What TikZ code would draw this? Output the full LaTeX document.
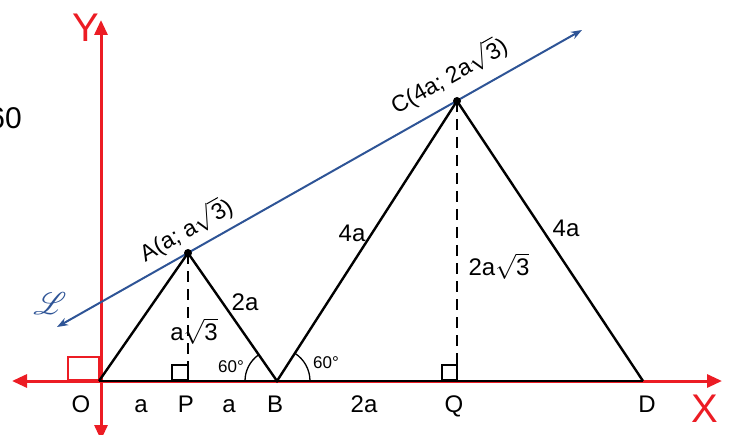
\documentclass[tikz,border=0pt]{standalone}
\usepackage{fontspec}
\setmainfont{Liberation Sans}
\usepackage{mathrsfs}
\usetikzlibrary{arrows.meta}
\definecolor{axred}{RGB}{236,28,36}
\definecolor{lblue}{RGB}{46,84,150}
\newcommand\rtthree{$\sqrt{\mbox{3}}$}
\tikzset{
  axis/.style={axred, line width=3pt, -{Triangle[length=15pt,width=13pt]}},
  side/.style={black, line width=2.4pt},
  hgt/.style={black, line width=2.2pt, dash pattern=on 11pt off 7pt},
  lbl/.style={font=\fontsize{24}{28}\selectfont, inner sep=0pt},
  sml/.style={font=\fontsize{17}{20}\selectfont, inner sep=0pt},
  coord/.style={font=\fontsize{23}{27}\selectfont, inner sep=0pt, rotate=29.5, anchor=base},
  big/.style={font=\fontsize{40}{44}\selectfont, inner sep=0pt, text=axred},
  rsq/.style={black, line width=1.8pt},
}
\begin{document}
\begin{tikzpicture}[x=1pt,y=1pt]
\useasboundingbox (0,0) rectangle (730,434);
% points
\coordinate (O) at (99,53);
\coordinate (A) at (188,181);
\coordinate (P) at (188,53);
\coordinate (B) at (277,53);
\coordinate (C) at (457,333);
\coordinate (Q) at (457,53);
\coordinate (D) at (643,53);
\coordinate (Ls) at (57,107);
\coordinate (Le) at (582,404);
\coordinate (Yo) at (101,53);
\coordinate (Yt) at (101,414);
\coordinate (Yb) at (101,-6);
\coordinate (Xl) at (12,53);
\coordinate (Xr) at (722,53);
% axes
\draw[axis] (Yo) -- (Yt);
\draw[axis] (Yo) -- (Yb);
\draw[axis] (Yo) -- (Xl);
\draw[axis] (Yo) -- (Xr);
\draw[axred, line width=2.8pt] (68,54) rectangle (99,77);
% line L
\draw[lblue, line width=2pt, {Stealth[length=11pt,width=8pt]}-{Stealth[length=11pt,width=8pt]}] (Ls) -- (Le);
% triangles
\draw[side] (O) -- (D);
\draw[side, line join=miter] (O) -- (A) -- (B) -- (C) -- (D);
\draw[hgt] (A) -- (P);
\draw[hgt] (C) -- (Q);
\draw[rsq] (172,54) rectangle (188,69);
\draw[rsq] (442,54) rectangle (457,69);
\fill (A) circle (4pt);
\fill (C) circle (4pt);
% angle arcs
\draw[black, line width=1.3pt] (245,53) arc[start angle=180, end angle=124.8, radius=32];
\draw[black, line width=1.3pt] (310,53) arc[start angle=0, end angle=57.3, radius=33];
% labels
\node[sml] (ang1) at (231,67) {60°};
\node[sml] (ang2) at (326,71) {60°};
\node[big] (ylab) at (86,406) {Y};
\node[big] (xlab) at (705,25) {X};
\node[lbl, anchor=base] (Ol) at (81,22) {O};
\node[lbl, anchor=base] (a1) at (141,22) {a};
\node[lbl, anchor=base] (Pl) at (186,22) {P};
\node[lbl, anchor=base] (a2) at (229,22) {a};
\node[lbl, anchor=base] (Bl) at (275,22) {B};
\node[lbl, anchor=base] (twoa) at (364,22) {2a};
\node[lbl, anchor=base] (Ql) at (454,22) {Q};
\node[lbl, anchor=base] (Dl) at (647,22) {D};
\node[lbl] (AB) at (245,132) {2a};
\node[lbl] (AP) at (194,103) {a\rtthree};
\node[lbl] (BC) at (352,201) {4a};
\node[lbl] (CD) at (566,206) {4a};
\node[lbl] (CQ) at (499,168) {2a\rtthree};
\node[coord] (Al) at (190,197) {A(a; a\rtthree)};
\node[coord] (Cl) at (453,351) {C(4a; 2a\rtthree)};
\node[inner sep=0pt, text=lblue, font=\fontsize{22}{26}\selectfont] (Ll) at (50,130) {\scalebox{1.5}{$\mathscr{L}$}};
\node[inner sep=0pt, anchor=east, font=\fontsize{30}{34}\selectfont] (sixty) at (22,316) {60};
\end{tikzpicture}
\end{document}
